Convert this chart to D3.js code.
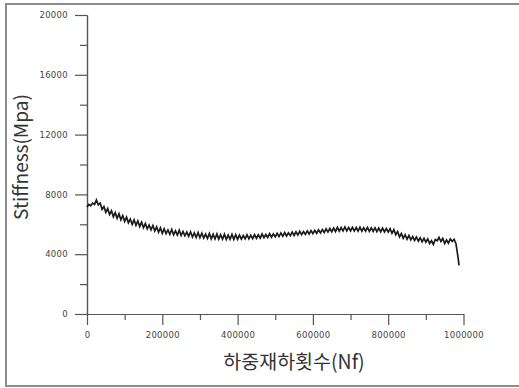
<!DOCTYPE html>
<html>
<head>
<meta charset="utf-8">
<script src="https://cdn.jsdelivr.net/npm/d3@7"></script>
<style>
  body { margin: 0; background: #fff; }
  svg { display: block; }
</style>
</head>
<body>
<div id="chart-holder"></div>
<script>
// load cycles (Nf)
const cycles = [
  0, 5000, 10000, 15000, 20000, 25000, 30000, 35000, 40000, 45000,
  50000, 55000, 60000, 65000, 70000, 75000, 80000, 85000, 90000, 95000,
  100000, 105000, 110000, 115000, 120000, 125000, 130000, 135000, 140000, 145000,
  150000, 155000, 160000, 165000, 170000, 175000, 180000, 185000, 190000, 195000,
  200000, 205000, 210000, 215000, 220000, 225000, 230000, 235000, 240000, 245000,
  250000, 255000, 260000, 265000, 270000, 275000, 280000, 285000, 290000, 295000,
  300000, 305000, 310000, 315000, 320000, 325000, 330000, 335000, 340000, 345000,
  350000, 355000, 360000, 365000, 370000, 375000, 380000, 385000, 390000, 395000,
  400000, 405000, 410000, 415000, 420000, 425000, 430000, 435000, 440000, 445000,
  450000, 455000, 460000, 465000, 470000, 475000, 480000, 485000, 490000, 495000,
  500000, 505000, 510000, 515000, 520000, 525000, 530000, 535000, 540000, 545000,
  550000, 555000, 560000, 565000, 570000, 575000, 580000, 585000, 590000, 595000,
  600000, 605000, 610000, 615000, 620000, 625000, 630000, 635000, 640000, 645000,
  650000, 655000, 660000, 665000, 670000, 675000, 680000, 685000, 690000, 695000,
  700000, 705000, 710000, 715000, 720000, 725000, 730000, 735000, 740000, 745000,
  750000, 755000, 760000, 765000, 770000, 775000, 780000, 785000, 790000, 795000,
  800000, 805000, 810000, 815000, 820000, 825000, 830000, 835000, 840000, 845000,
  850000, 855000, 860000, 865000, 870000, 875000, 880000, 885000, 890000, 895000,
  900000, 905000, 910000, 915000, 920000, 925000, 930000, 935000, 940000, 945000,
  950000, 955000, 960000, 965000, 970000, 975000, 980000, 983000, 986000, 988000
];

// stiffness (MPa)
const stiffness = [
  7150, 7330, 7240, 7420, 7330, 7620, 7300, 7420, 7000, 7180,
  6800, 7050, 6650, 6900, 6500, 6780, 6400, 6700, 6300, 6580,
  6200, 6480, 6100, 6350, 6000, 6300, 5930, 6230, 5850, 6150,
  5770, 6050, 5700, 5950, 5630, 5920, 5550, 5830, 5470, 5760,
  5400, 5700, 5370, 5620, 5330, 5650, 5300, 5560, 5280, 5600,
  5250, 5520, 5230, 5480, 5190, 5500, 5150, 5420, 5120, 5450,
  5100, 5400, 5080, 5350, 5050, 5380, 5030, 5330, 5020, 5360,
  5010, 5300, 5000, 5340, 4990, 5280, 5000, 5320, 4990, 5300,
  5000, 5280, 5010, 5250, 5020, 5300, 5030, 5260, 5040, 5310,
  5060, 5300, 5080, 5350, 5100, 5320, 5120, 5380, 5140, 5360,
  5160, 5400, 5180, 5420, 5200, 5450, 5220, 5430, 5240, 5480,
  5260, 5500, 5280, 5530, 5310, 5520, 5330, 5560, 5350, 5580,
  5380, 5600, 5400, 5630, 5430, 5650, 5450, 5700, 5480, 5720,
  5500, 5750, 5520, 5800, 5540, 5780, 5560, 5820, 5560, 5790,
  5560, 5800, 5550, 5780, 5550, 5810, 5540, 5770, 5540, 5790,
  5530, 5770, 5520, 5760, 5510, 5750, 5500, 5740, 5490, 5720,
  5480, 5700, 5400, 5640, 5300, 5520, 5150, 5380, 5070, 5300,
  5000, 5250, 4960, 5180, 4920, 5150, 4880, 5100, 4830, 5060,
  4800, 5020, 4720, 4900, 4650, 4980, 4900, 5120, 4850, 5050,
  4720, 4950, 4740, 5020, 4850, 5000, 4700, 4200, 3700, 3250
];

const yMajor = [0, 4000, 8000, 12000, 16000, 20000];
const yMinor = [2000, 6000, 10000, 14000, 18000];
const xMajor = [0, 200000, 400000, 600000, 800000, 1000000];
const xMinor = [100000, 300000, 500000, 700000, 900000];

const width = 519;
const height = 388;
const marginLeft = 87;
const plotRight = 463.5;
const plotTop = 15;
const plotBottom = 314;

const svg = d3
  .select("#chart-holder")
  .append("svg")
  .attr("width", width)
  .attr("height", height);

// outer frame
svg
  .append("rect")
  .attr("x", 6)
  .attr("y", 4)
  .attr("width", 530)
  .attr("height", 382)
  .attr("fill", "#fff")
  .attr("stroke", "#8c8c8c")
  .attr("stroke-width", 2);

const x = d3.scaleLinear().domain([0, 1000000]).range([marginLeft, plotRight]);
const y = d3.scaleLinear().domain([0, 20000]).range([plotBottom, plotTop]);

const styleAxis = (g) => {
  g.select(".domain").attr("stroke", "#555").attr("stroke-width", 1.2);
  g.selectAll(".tick line").attr("stroke", "#555").attr("stroke-width", 1.2);
  g.selectAll(".tick text")
    .attr("fill", "#444")
    .style("font-family", "'DejaVu Sans', sans-serif")
    .style("font-size", "8.5px")
    .style("letter-spacing", "0.3px");
};

// y axis
svg
  .append("g")
  .attr("transform", `translate(${marginLeft},0)`)
  .call(d3.axisLeft(y).tickValues(yMinor).tickSize(7).tickSizeOuter(0).tickFormat(""))
  .call(styleAxis);
svg
  .append("g")
  .attr("transform", `translate(${marginLeft},0)`)
  .call(d3.axisLeft(y).tickValues(yMajor).tickSize(12).tickSizeOuter(0).tickPadding(7).tickFormat(d3.format("d")))
  .call(styleAxis);

// x axis
svg
  .append("g")
  .attr("transform", `translate(0,${plotBottom})`)
  .call(d3.axisBottom(x).tickValues(xMinor).tickSize(6).tickSizeOuter(0).tickFormat(""))
  .call(styleAxis);
svg
  .append("g")
  .attr("transform", `translate(0,${plotBottom})`)
  .call(d3.axisBottom(x).tickValues(xMajor).tickSize(11).tickSizeOuter(0).tickPadding(7).tickFormat(d3.format("d")))
  .call(styleAxis);

// stiffness curve
const line = d3
  .line()
  .x((d, i) => x(cycles[i]))
  .y((d) => y(d));

svg
  .append("path")
  .datum(stiffness)
  .attr("fill", "none")
  .attr("stroke", "#1a1a1a")
  .attr("stroke-width", 1.7)
  .attr("d", line);

// axis titles
svg
  .append("text")
  .attr("transform", "translate(28,157) rotate(-90)")
  .attr("text-anchor", "middle")
  .attr("fill", "#333")
  .style("font-family", "'Noto Sans CJK KR', 'Noto Sans', sans-serif")
  .style("font-size", "19px")
  .text("Stiffness(Mpa)");

svg
  .append("text")
  .attr("x", 294)
  .attr("y", 369)
  .attr("text-anchor", "middle")
  .attr("fill", "#333")
  .style("font-family", "'Noto Sans CJK KR', 'Noto Sans', sans-serif")
  .style("font-size", "19.5px")
  .text("하중재하횟수(Nf)");
</script>
</body>
</html>
